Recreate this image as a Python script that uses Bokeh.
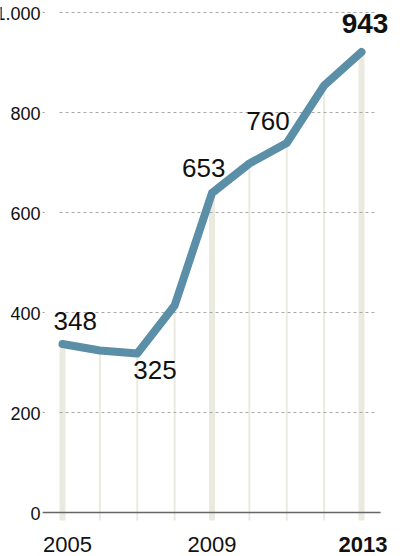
from bokeh.plotting import figure
from bokeh.models import Range1d
from bokeh.core.properties import value
from bokeh.embed import file_html
from bokeh.resources import INLINE

# ---- data ----
years = [2005, 2006, 2007, 2008, 2009, 2010, 2011, 2012, 2013]
values = [337, 324, 318, 414, 639, 698, 739, 854, 921]
point_labels = ["348", "", "325", "", "653", "", "760", "", "943"]
y_ticks = [0, 200, 400, 600, 800, 1000]
y_tick_labels = ["0", "200", "400", "600", "800", "1.000"]
x_label_years = [2005, 2009, 2013]
x_labels = ["2005", "2009", "2013"]
highlight_years = [2005, 2009, 2013]

FONT = value("Liberation Sans")
LINE_COLOR = "#5a8fa7"
BAR_COLOR = "#ebeae0"
TEXT_COLOR = "#111111"

W, H = 414, 556
px_per_year = 37.375
x0 = 2005 - 62 / px_per_year
y_top = 1024
y_bot = -88

p = figure(width=W, height=H, output_backend="svg", toolbar_location=None,
           x_range=Range1d(x0, x0 + W / px_per_year), y_range=Range1d(y_bot, y_top),
           min_border=0)
p.axis.visible = False
p.xgrid.visible = False
p.ygrid.visible = False
p.outline_line_color = None
p.background_fill_color = "white"
p.border_fill_color = "white"

# vertical bars under the line
thick_x = [y for y in years if y in highlight_years]
thick_v = [v for y, v in zip(years, values) if y in highlight_years]
thin_x = [y for y in years if y not in highlight_years]
thin_v = [v for y, v in zip(years, values) if y not in highlight_years]
p.segment(x0=thick_x, y0=[-16] * len(thick_x), x1=thick_x, y1=thick_v,
          line_color=BAR_COLOR, line_width=6)
p.segment(x0=thin_x, y0=[-16] * len(thin_x), x1=thin_x, y1=thin_v,
          line_color=BAR_COLOR, line_width=2)

# dashed gridlines
grid_y = [t for t in y_ticks if t > 0]
p.segment(x0=[2004.92] * len(grid_y), y0=grid_y, x1=[2013.43] * len(grid_y), y1=grid_y,
          line_color="#a8a8a8", line_width=1, line_dash="3 3")
# tiny tick marks next to labels
p.segment(x0=[2004.47] * len(grid_y), y0=grid_y, x1=[2004.52] * len(grid_y), y1=grid_y,
          line_color="#999999", line_width=1)
# baseline
p.segment(x0=[2004.47], y0=[0], x1=[2013.51], y1=[0], line_color="#666666", line_width=1.5)

# y tick labels
p.text(x=[2005] * len(y_ticks), y=y_ticks, text=y_tick_labels, x_offset=-22, y_offset=0.5,
       text_align="right", text_baseline="alphabetic", text_font=FONT,
       text_font_size="18px", text_color=TEXT_COLOR)

# main line
p.line(years, values, line_color=LINE_COLOR, line_width=8, line_cap="round", line_join="round")

# point labels
def lab(i, dx, dy, align, bold=False, size="26px"):
    p.text(x=[years[i]], y=[values[i]], text=[point_labels[i]], x_offset=dx, y_offset=dy,
           text_align=align, text_baseline="alphabetic", text_font=FONT,
           text_font_size=size, text_color=TEXT_COLOR,
           text_font_style="bold" if bold else "normal")

lab(0, -9, -23, "left")
lab(2, -4, 16.5, "left")
lab(4, 13.5, -25, "right")
lab(6, 3, -22, "right")
lab(8, 3.5, -28.5, "center", bold=True, size="28px")

# x labels
x_label_shift = [5, 0, 1.5]
for yr, t, dx in zip(x_label_years, x_labels, x_label_shift):
    p.text(x=[yr], y=[0], text=[t], x_offset=dx, y_offset=32, text_align="center",
           text_baseline="alphabetic", text_font=FONT, text_font_size="22px",
           text_color=TEXT_COLOR, text_font_style="bold" if yr == 2013 else "normal")

open("out.html", "w").write(file_html(p, INLINE))
